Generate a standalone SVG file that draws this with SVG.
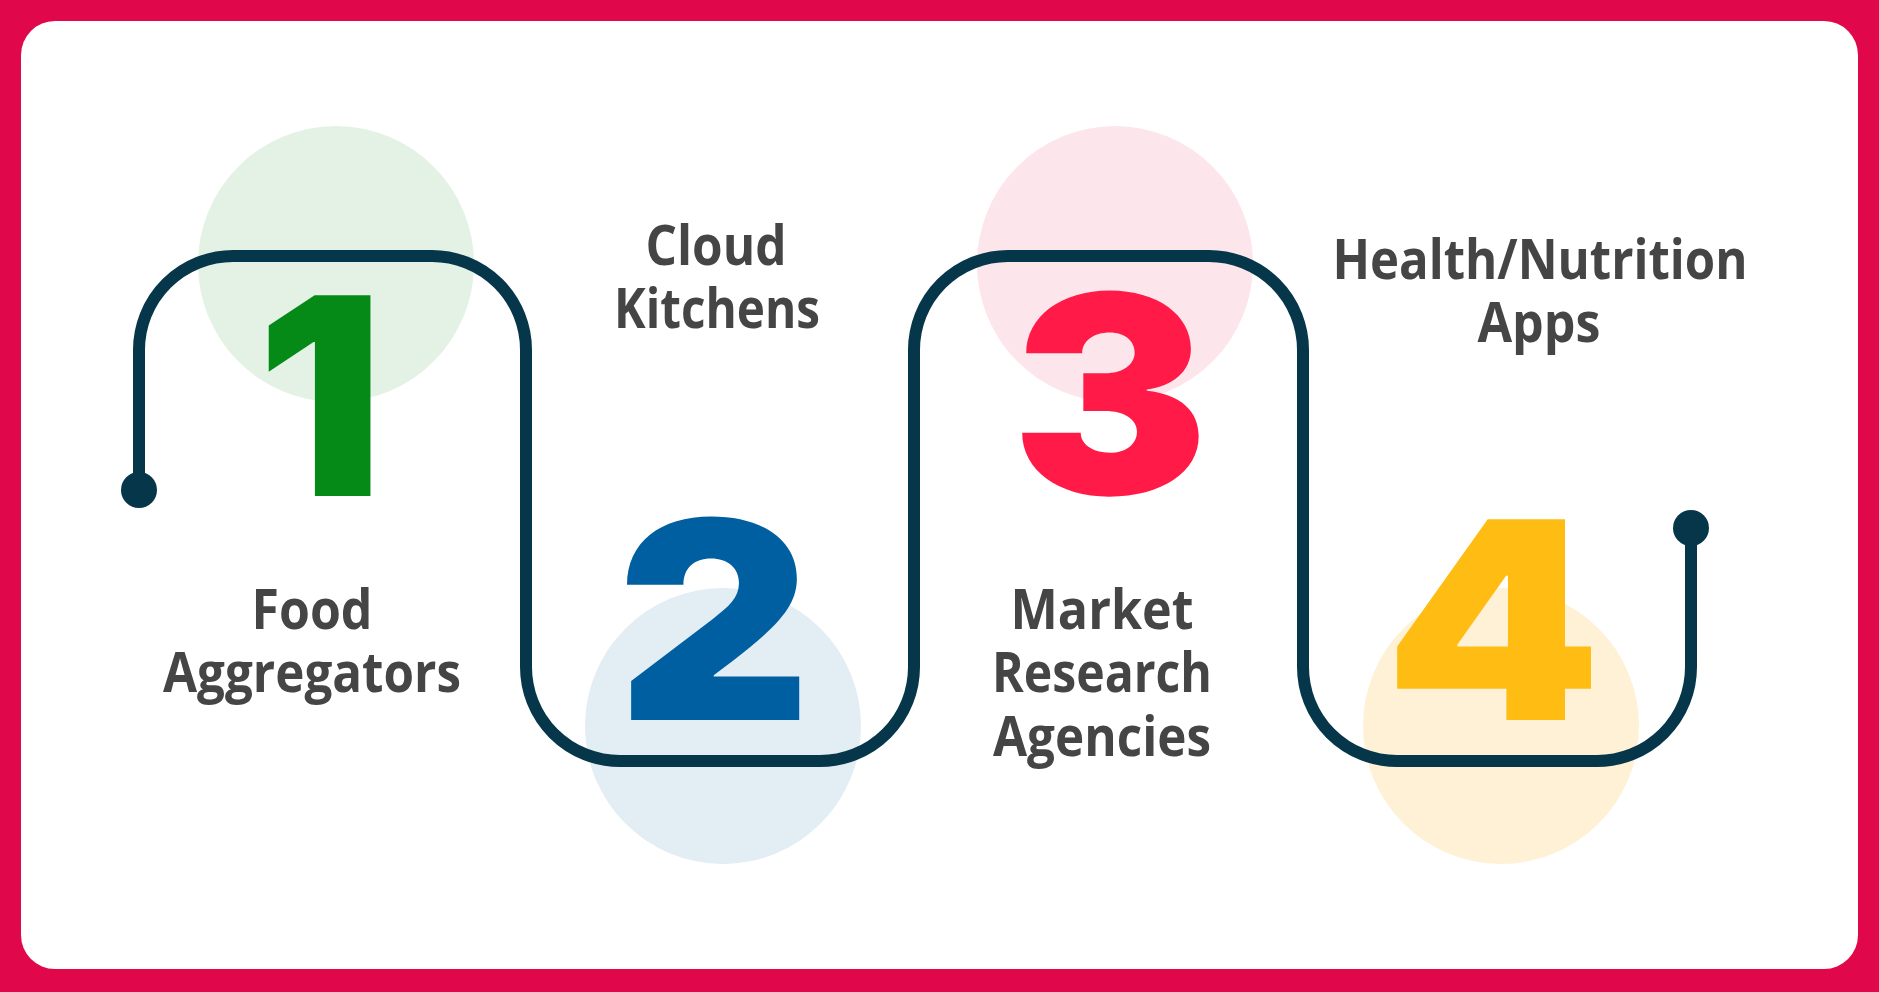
<svg xmlns="http://www.w3.org/2000/svg" width="1879" height="992" viewBox="0 0 1879 992">
<style>
.lbl{font-family:"Open Sans","Noto Sans","Liberation Sans",sans-serif;font-weight:700;font-size:55px;fill:#454545;text-anchor:middle}
.num{font-family:Inter,"Roboto","Liberation Sans",sans-serif;font-weight:900;font-size:276px;text-anchor:middle}
.wire{fill:none;stroke:#06364A;stroke-width:12;stroke-linecap:round}
.dot{fill:#06364A}
</style>
<rect x="0" y="0" width="1879" height="992" fill="#E0074B"/>
<rect x="21" y="21" width="1837" height="948" rx="34" ry="34" fill="#FFFFFF"/>
<g id="node-1">
<circle cx="336" cy="264" r="138" fill="#E4F2E6"/>
</g>
<g id="node-2">
<circle cx="723" cy="726" r="138" fill="#E3EDF4"/>
</g>
<g id="node-3">
<circle cx="1115" cy="264" r="138" fill="#FDE5EC"/>
</g>
<g id="node-4">
<circle cx="1501" cy="726" r="138" fill="#FEF1D6"/>
</g>
<g id="connectors">
<path class="wire" d="M139,490 V350 A94,94 0 0 1 233,256 H432 A94,94 0 0 1 526,350 V667 A94,94 0 0 0 620,761 H820 A94,94 0 0 0 914,667 V350 A94,94 0 0 1 1008,256 H1209 A94,94 0 0 1 1303,350 V667 A94,94 0 0 0 1397,761 H1597 A94,94 0 0 0 1691,667 V528"/>
<circle class="dot" cx="139" cy="490" r="18"/>
<circle class="dot" cx="1691" cy="528" r="18"/>
</g>
<g id="node-1-text">
<text class="num" x="0" y="0" transform="translate(320,496) scale(1.02,1)" fill="#058A17">1</text>
<text class="lbl" x="312" y="629" textLength="121" lengthAdjust="spacingAndGlyphs">Food</text>
<text class="lbl" x="312" y="692" textLength="298" lengthAdjust="spacingAndGlyphs">Aggregators</text>
</g>
<g id="node-2-text">
<text class="num" x="0" y="0" transform="translate(714,720) scale(1.09,1)" fill="#005FA0">2</text>
<text class="lbl" x="716" y="265" textLength="141" lengthAdjust="spacingAndGlyphs">Cloud</text>
<text class="lbl" x="717" y="328" textLength="206" lengthAdjust="spacingAndGlyphs">Kitchens</text>
</g>
<g id="node-3-text">
<text class="num" x="0" y="0" transform="translate(1110,494) scale(1.07,1)" fill="#FF1A47">3</text>
<text class="lbl" x="1102" y="629" textLength="183" lengthAdjust="spacingAndGlyphs">Market</text>
<text class="lbl" x="1102" y="692" textLength="220" lengthAdjust="spacingAndGlyphs">Research</text>
<text class="lbl" x="1102" y="756" textLength="218" lengthAdjust="spacingAndGlyphs">Agencies</text>
</g>
<g id="node-4-text">
<text class="num" x="0" y="0" transform="translate(1493,720) scale(1.12,1)" fill="#FFBC12">4</text>
<text class="lbl" x="1540" y="279" textLength="415" lengthAdjust="spacingAndGlyphs">Health/Nutrition</text>
<text class="lbl" x="1539" y="342" textLength="123" lengthAdjust="spacingAndGlyphs">Apps</text>
</g>
</svg>
